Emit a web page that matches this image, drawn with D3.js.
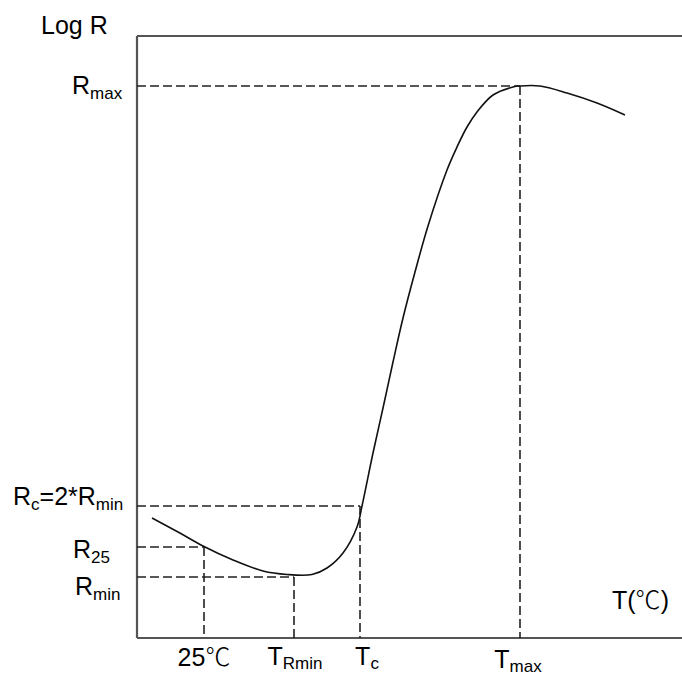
<!DOCTYPE html>
<html>
<head>
<meta charset="utf-8">
<script src="https://cdn.jsdelivr.net/npm/d3@7"></script>
<style>
	body { margin: 0; background: #fff; }
	text { font-family: "Liberation Sans", Arial, "Noto Sans CJK SC", sans-serif; fill: #000; }
	.cjk { font-family: "Noto Sans CJK SC", sans-serif; font-weight: 300; }
</style>
</head>
<body>
<div id="chart"></div>
<script>
// curve of log R against temperature (arbitrary units)
var curve_t= [3.0, 8.2, 13.2, 19.2, 25.2, 30.0, 35.0, 38.0, 41.2, 44.0, 45.0, 47.2, 49.2, 51.2, 53.2, 55.6, 58.2, 62.0, 64.0, 66.0, 68.0, 71.2, 75.2, 76.6, 80.6, 86.0, 92.0, 97.6];
var curve_r= [24.0, 21.2, 18.4, 15.6, 13.4, 12.7, 12.7, 14.0, 17.0, 22.2, 26.4, 37.0, 46.0, 55.2, 64.0, 73.2, 82.4, 93.6, 98.2, 102.2, 105.2, 108.6, 110.2, 110.4, 110.4, 109.0, 107.0, 104.6];

// reference points: Rmax/Tmax, Rc/Tc, R25/25C, Rmin/TRmin
var mark_t= [76.6, 44.6, 13.4, 31.4];
var mark_r= [110.4, 26.4, 18.2, 12.2];

// labels as [text, kind] pieces: 0 normal, 1 subscript, 2 cjk sign
var label_r= [
	[["R", 0], ["max", 1]],
	[["R", 0], ["c", 1], ["=2*R", 0], ["min", 1]],
	[["R", 0], ["25", 1]],
	[["R", 0], ["min", 1]]
];
var label_t= [
	[["T", 0], ["max", 1]],
	[["T", 0], ["c", 1]],
	[["25", 0], ["℃", 2]],
	[["T", 0], ["Rmin", 1]]
];
var title_r= [["Log R", 0]];
var title_t= [["T(", 0], ["℃", 2], [")", 0]];

var width= 682, height= 675;

var x= d3.scaleLinear().domain([0, 109]).range([137, 682]);
var y= d3.scaleLinear().domain([0, 120.4]).range([638, 36]);

var svg= d3.select("#chart")
	.append("svg")
	.attr("width", width)
	.attr("height", height);

// frame: left, top and bottom lines
var frame= [[0, 0, 0, 120.4], [0, 120.4, 109, 120.4], [0, 0, 109, 0]];
frame.forEach(function(f) {
	svg.append("line")
		.attr("x1", x(f[0])).attr("y1", y(f[1]))
		.attr("x2", x(f[2])).attr("y2", y(f[3]))
		.attr("stroke", "#555")
		.attr("stroke-width", 2.2);
});

// dashed guides
for (var i= 0; i< mark_t.length; i++) {
	svg.append("line")
		.attr("x1", x(0)).attr("y1", y(mark_r[i]))
		.attr("x2", x(mark_t[i])).attr("y2", y(mark_r[i]))
		.attr("stroke", "#222")
		.attr("stroke-width", 1.6)
		.attr("stroke-dasharray", "9,4");
	svg.append("line")
		.attr("x1", x(mark_t[i])).attr("y1", y(mark_r[i]))
		.attr("x2", x(mark_t[i])).attr("y2", y(0))
		.attr("stroke", "#222")
		.attr("stroke-width", 1.6)
		.attr("stroke-dasharray", "9,4");
}

// the curve
var pts= curve_t.map(function(t, k) { return [t, curve_r[k]]; });
var line= d3.line()
	.x(function(d) { return x(d[0]); })
	.y(function(d) { return y(d[1]); })
	.curve(d3.curveCatmullRom.alpha(0.5));

svg.append("path")
	.datum(pts)
	.attr("d", line)
	.attr("fill", "none")
	.attr("stroke", "#111")
	.attr("stroke-width", 1.6);

function put_label(parts, px, py, anchor, sub_dy) {
	var t= svg.append("text")
		.attr("x", px)
		.attr("y", py)
		.attr("font-size", 25)
		.attr("text-anchor", anchor);
	var down= 0;
	parts.forEach(function(p) {
		var now= p[1]== 1 ? sub_dy : 0;
		var s= t.append("tspan")
			.attr("dy", now- down)
			.attr("font-size", p[1]== 1 ? 17 : 25)
			.text(p[0]);
		if (p[1]== 2) s.attr("class", "cjk");
		down= now;
	});
}

// y labels, start x and baseline offset from the guide
var ly_x= [72, 13, 73, 75];
var ly_dy= [8, -1, 11, 18];
for (var i= 0; i< label_r.length; i++)
	put_label(label_r[i], ly_x[i], y(mark_r[i])+ ly_dy[i], "start", 5);

// x labels
var lx_dx= [-2, 7, 0, 1];
var lx_y= [668, 665, 666, 665];
for (var i= 0; i< label_t.length; i++)
	put_label(label_t[i], x(mark_t[i])+ lx_dx[i], lx_y[i], "middle", 4);

// axis titles
put_label(title_r, 41, 34, "start", 0);
put_label(title_t, 612, 609, "start", 0);
</script>
</body>
</html>
